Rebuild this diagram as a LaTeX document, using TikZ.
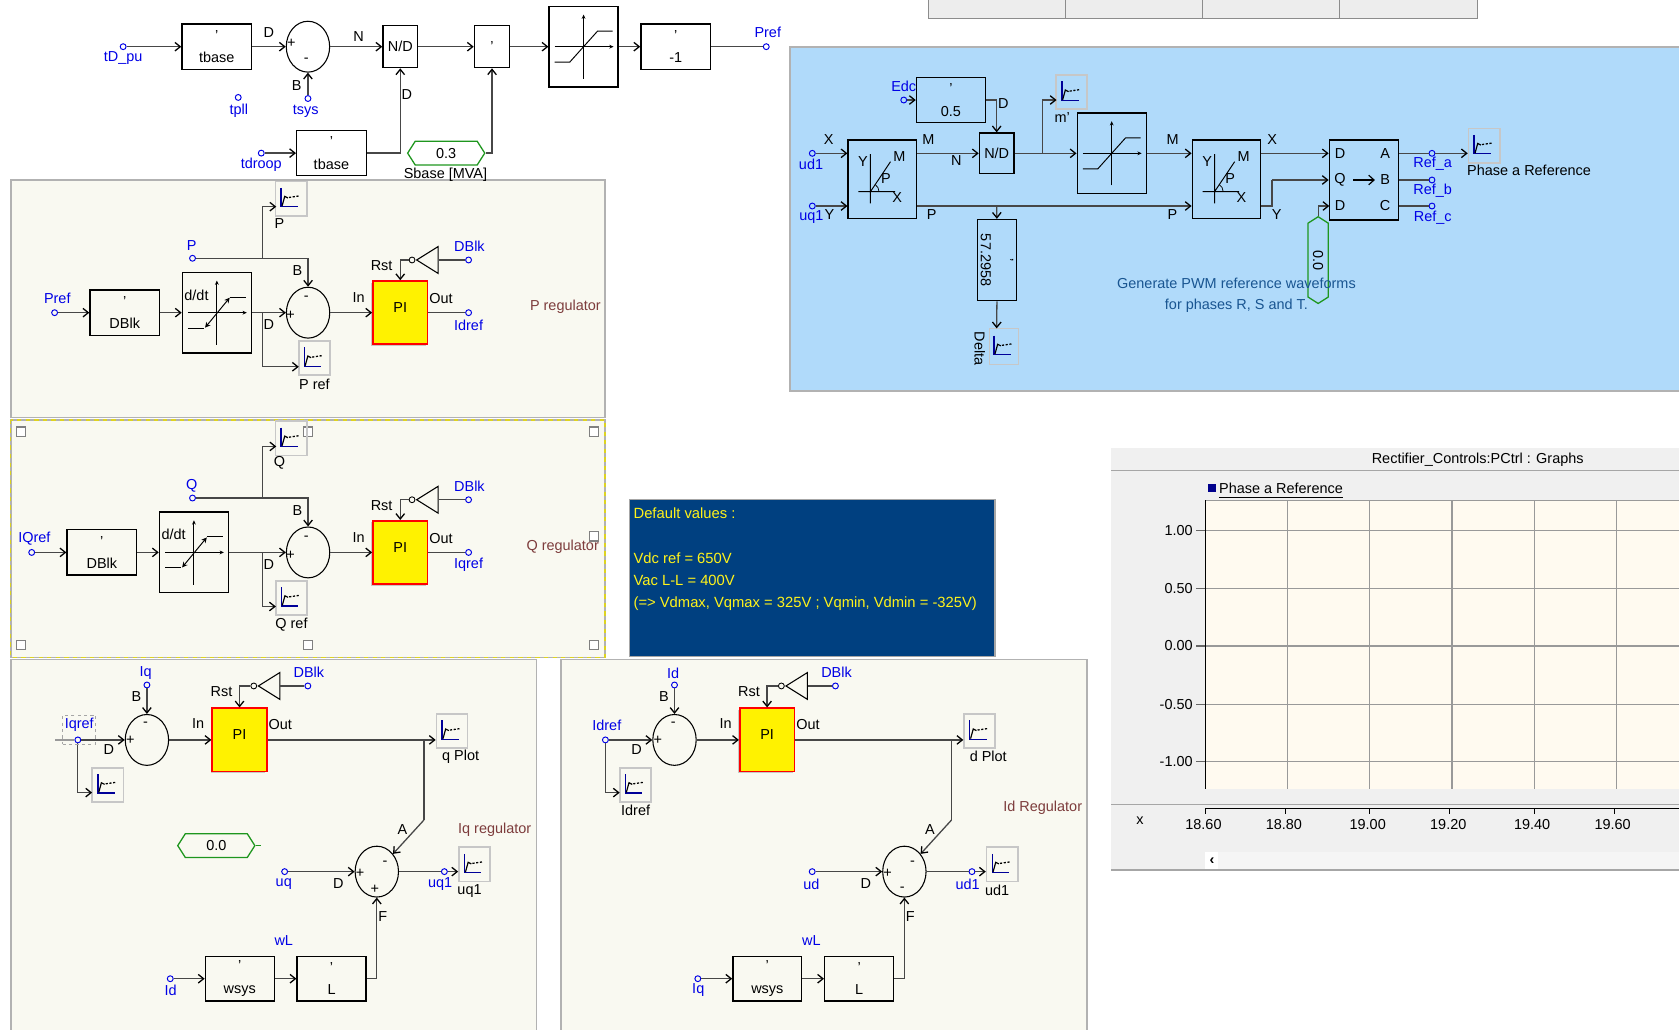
\documentclass[tikz,border=0pt]{standalone}
\usepackage{fontspec}
\setmainfont{Liberation Sans}
\usetikzlibrary{arrows.meta,positioning,shadows,shapes.geometric,shapes.symbols}
\definecolor{panelbg}{RGB}{249,249,241}
\definecolor{bluebg}{RGB}{176,218,250}
\definecolor{navybg}{RGB}{0,64,128}
\definecolor{sigblue}{RGB}{0,0,230}
\definecolor{notered}{RGB}{125,60,60}
\definecolor{notecyan}{RGB}{25,85,145}
\definecolor{cstgreen}{RGB}{30,150,30}
\definecolor{plotbg}{RGB}{255,250,240}
\definecolor{graphbg}{RGB}{240,240,240}
\newcommand{\labfont}{\fontsize{13.5}{16}\selectfont}
\tikzset{
  lab/.style={font=\labfont, inner sep=0},
  sigl/.style={lab, text=sigblue},
  note/.style={lab, text=notered},
  term/.style={circle, draw=sigblue, line width=0.9pt, inner sep=0, minimum size=5.5pt},
  blk/.style 2 args={draw, line width=1.2pt, minimum width=#1pt, minimum height=#2pt,
    inner sep=0, align=center, font=\labfont},
  summer/.style={ellipse, draw, line width=1pt, minimum width=40.5pt, minimum height=47.5pt, inner sep=0},
  piblk/.style={draw=red, fill=yellow, line width=1.6pt, minimum width=51pt, minimum height=59pt,
    inner sep=0, font=\labfont, text depth=10pt,
    drop shadow={shadow xshift=-1.5pt, shadow yshift=-1.5pt, fill=black!40}},
  notgate/.style={isosceles triangle, isosceles triangle stretches, shape border rotate=180,
    draw, line width=1pt, minimum width=25pt, minimum height=20pt, inner sep=0, anchor=apex},
  bubble/.style={circle, draw, line width=0.8pt, inner sep=0, minimum size=5.5pt},
  cst/.style={signal, signal to=west and east, signal pointer angle=115, draw=cstgreen,
    line width=1.2pt, minimum width=72pt, minimum height=22pt, inner sep=0, font=\labfont},
  wire/.style={draw=black!72, line width=1.2pt},
  sig/.style={wire, -{Straight Barb[length=5pt, width=8pt, color=black]}},
  handle/.style={draw=black!50, fill=white, line width=1pt, minimum size=8.5pt, inner sep=0},
  scopebox/.style={draw=black!22, line width=1.6pt, minimum width=29pt, minimum height=32pt, inner sep=0,
    path picture={
      \draw[shift={(path picture bounding box.center)}, rotate=#1, line width=1.3pt, blue!60!black]
        (-9.3,-10) -- (-9.3,7.6) -- (6.4,7.6);
      \draw[shift={(path picture bounding box.center)}, rotate=#1, line width=1.1pt, black]
        (-8.5,7) -- (-6,-2) -- (-3,-0.5);
      \draw[shift={(path picture bounding box.center)}, rotate=#1, line width=1.2pt, black, dash pattern=on 2pt off 1.5pt]
        (-2,-1) -- (8,-2.5);
    }},
  scopebox/.default=0,
  limiter/.style={draw, line width=1.2pt, minimum width=64.5pt, minimum height=75.5pt, inner sep=0,
    path picture={
      \draw[shift={(path picture bounding box.center)}, line width=0.9pt, -{Stealth[length=4pt, width=3.5pt]}]
        (0,30) -- (0,-30);
      \draw[shift={(path picture bounding box.center)}, line width=0.9pt, -{Stealth[length=4pt, width=3.5pt]}]
        (-27,0) -- (28,0);
      \draw[shift={(path picture bounding box.center)}, line width=0.9pt]
        (-27,14.5) -- (-13,14.5) -- (13,-14.5) -- (27,-14.5);
    }},
  ddtblk/.style={draw, line width=1.2pt, minimum width=64.5pt, minimum height=75.5pt, inner sep=0,
    path picture={
      \draw[shift={(path picture bounding box.center)}, line width=0.9pt, -{Stealth[length=4pt, width=3.5pt]}]
        (0,30) -- (0,-30);
      \draw[shift={(path picture bounding box.center)}, line width=0.9pt, -{Stealth[length=4pt, width=3.5pt]}]
        (-27,0) -- (28,0);
      \draw[shift={(path picture bounding box.center)}, line width=0.9pt]
        (-27,14.5) -- (-12,14.5) (12,-14.5) -- (27,-14.5);
      \draw[shift={(path picture bounding box.center)}, line width=0.9pt, {Stealth[length=5pt, width=5pt]}-{Stealth[length=5pt, width=5pt]}]
        (-11,14) -- (12,-14);
    }},
  xform/.style={draw, line width=1.2pt, minimum width=63.8pt, minimum height=73.2pt, inner sep=0,
    path picture={
      \draw[shift={(path picture bounding box.center)}, line width=0.9pt]
        (-11,-23.5) -- (-11,22.6) (-22.3,11.6) -- (12,11.6) (-11,11.6) -- (7.7,-16.4);
      \draw[shift={(path picture bounding box.center)}, line width=0.7pt]
        (-3,11.6) arc[start angle=0, end angle=-58, radius=8];
    }},
}
\begin{document}
\begin{tikzpicture}[x=1pt, y=-1pt]
  \useasboundingbox (0,0) rectangle (1568,961);

  % Panels
  \draw[fill=black!7, draw=black!45, line width=1.2pt] (867,-5) rectangle (1380,17);
  \foreach \x in {995,1123,1251}
    \draw[draw=black!45, line width=1pt] (\x,0) -- (\x,17);
  \draw[fill=panelbg, draw=black!30, line width=1.5pt] (10,168) rectangle (565,390);
  \draw[fill=panelbg, draw=black!30, line width=1.5pt] (10,392) rectangle (565,614);
  \draw[yellow!85!black, line width=1.4pt, dash pattern=on 4pt off 4pt] (10,392) rectangle (565,614);
  \draw[fill=panelbg, draw=black!30, line width=1.5pt] (10,616) rectangle (501,970);
  \draw[fill=panelbg, draw=black!30, line width=1.5pt] (524,616) rectangle (1015,970);
  \draw[fill=bluebg, draw=black!30, line width=1.5pt] (738,44) rectangle (1580,365);
  \draw[fill=navybg, draw=black!35, line width=1.5pt] (588,466.5) rectangle (929,613);

  % Selection handles
  \foreach \nm/\x/\y in {hA/19.6/403,hB/288/403,hC/555/403,hD/555/501,hE/19.6/602.4,hF/288/602.4,hG/555/602.4}
    \node[handle] (\nm) at (\x,\y) {};

  % Top row
  \node[term] (tDpu) at (115,43.6) {};
  \node[blk={65}{42.4}] (tbaseA) at (202.4,43.6) {'\\[5pt]tbase};
  \node[summer] (sumT) at (287.6,43.6) {};
  \node[blk={32.4}{39.2}] (ndT) at (373.8,43.6) {N/D};
  \node[blk={33}{39.2}] (mulT) at (459.5,43.6) {'};
  \node[limiter] (limT) at (545,43.6) {};
  \node[blk={65}{42.4}] (negT) at (631,43.6) {'\\[5pt]-1};
  \node[term] (tPrefT) at (715.6,43.6) {};
  \node[term] (tSys) at (287.6,92) {};
  \node[term] (tPll) at (222.5,91) {};
  \node[term] (tDroop) at (244,143) {};
  \node[blk={65}{42}] (tbaseB) at (309.5,143) {'\\[5pt]tbase};
  \node[cst] (cstS) at (416.7,143) {0.3};
  \foreach \nm/\x/\y/\lbl in {
    lDpu/115/54/{tD\_pu}, lPrefT/717/30.5/Pref, lSys/285.5/104/tsys, lPll/223/103/tpll,
    lDroop/244/154/tdroop}
    \node[sigl] (\nm) at (\x,\y) {\lbl};
  \foreach \nm/\x/\y/\lbl in {
    lDa/251/30.5/D, lPlus/272/40/+, lMinus/286/56/-, lBa/277/80/B, lNa/335/34/N,
    lDb/380/88.7/D, lSb/416/163.4/{Sbase [MVA]}}
    \node[lab] (\nm) at (\x,\y) {\lbl};
  \draw[sig] (tDpu) -- (tbaseA);
  \draw[sig] (tbaseA) -- (sumT);
  \draw[sig] (tSys) -- (sumT);
  \draw[sig] (sumT) -- (ndT);
  \draw[sig] (ndT) -- (mulT);
  \draw[sig] (mulT) -- (limT);
  \draw[sig] (limT) -- (negT);
  \draw[wire] (negT) -- (tPrefT);
  \draw[sig] (tDroop) -- (tbaseB);
  \draw[sig] (tbaseB.east) -| (ndT.south);
  \draw[sig] (cstS.east) -| (mulT.south);

  % P and Q regulators
  \foreach \s/\sy/\sx/\sig/\sref/\sout/\snote/\nx in {
    P/0/0/P/Pref/Idref/{P regulator}/528,
    Q/223.9/-21.4/Q/IQref/Iqref/{Q regulator}/525.5}{
    \begin{scope}[shift={(0,\sy)}]
      \node[term] (tRef\s) at ({51+\sx},292) {};
      \node[blk={65}{42.3}] (dblk\s) at ({116.5+\sx},292) {'\\[5pt]DBlk};
      \node[ddtblk] (ddt\s) at ({202.5+\sx},292) {};
      \node[lab] (lDdt\s) at ({183.5+\sx},275.5) {d/dt};
      \node[summer] (sum\s) at (287.7,292) {};
      \node[piblk] (pi\s) at (373.8,292) {PI};
      \node[term] (tOut\s) at (437.6,292) {};
      \node[term] (tMeas\s) at (179.8,241.2) {};
      \node[term] (tBlk\s) at (437.6,242.8) {};
      \node[notgate] (not\s) at (387.8,242.8) {};
      \node[bubble] (bub\s) at (384.8,242.8) {};
      \node[scopebox] (scA\s) at (271.9,185.4) {};
      \node[scopebox] (scB\s) at ({293.5+\sx},334.5) {};
      \coordinate (jT\s) at (245,241.2);
      \coordinate (jB\s) at (245,292);
      \coordinate (aT\s) at (258,193);
      \coordinate (aB\s) at ({279+\sx},342.5);
      \foreach \nm/\x/\y/\lbl in {
        lB/277.7/253/B, lD/251/303/D, lP/271.4/294.8/+, lM/286/278.6/-, lIn/335/278/In,
        lOut/411.8/279/Out, lRst/356.4/248/Rst, lSa/261/208.5/\sig}
        \node[lab] (\nm\s) at (\x,\y) {\lbl};
      \node[lab] (lSb\s) at ({293.6+\sx},359) {\sig{} ref};
      \node[sigl] (lRef\s) at ({53.5+\sx},279) {\sref};
      \node[sigl] (lMeas\s) at (179,229.4) {\sig};
      \node[sigl] (lBlk\s) at (438.4,230.3) {DBlk};
      \node[sigl] (lOutT\s) at (437.6,303.5) {\sout};
      \node[note] (lNote\s) at (\nx,286.4) {\snote};
      \draw[sig] (tRef\s) -- (dblk\s);
      \draw[sig] (dblk\s) -- (ddt\s);
      \draw[sig] (ddt\s) -- (sum\s);
      \draw[sig] (sum\s) -- (pi\s);
      \draw[wire] (pi\s) -- (tOut\s);
      \draw[wire] (tMeas\s) -- (jT\s);
      \draw[sig] (jT\s) -| (sum\s.north);
      \draw[sig] (jT\s) |- (aT\s);
      \draw[sig] (jB\s) |- (aB\s);
      \draw[wire] (tBlk\s) -- (not\s.lower side);
      \draw[sig] (bub\s.west) -| (pi\s.north);
    \end{scope}
  }

  % Iq and Id regulators
  \foreach \s/\sx/\si/\sr/\sp/\sv/\so/\sn/\sc in {
    C/0/Iq/Iqref/{q Plot}/uq/uq1/+/Id,
    D/492.7/Id/Idref/{d Plot}/ud/ud1/-/Iq}{
    \begin{scope}[shift={(\sx,0)}]
      \node[term] (tRef\s) at (72.7,691) {};
      \node[term] (tI\s) at (137.2,639.7) {};
      \node[summer] (sumA\s) at (137.2,691) {};
      \node[piblk] (pi\s) at (223.7,691) {PI};
      \node[term] (tBlk\s) at (287.5,640.6) {};
      \node[notgate] (not\s) at (240,640.6) {};
      \node[bubble] (bub\s) at (237,640.6) {};
      \node[scopebox] (scA\s) at (422.2,682.8) {};
      \node[scopebox] (scR\s) at (100.7,733) {};
      \coordinate (aR\s) at (86,740.2);
      \coordinate (jO\s) at (395.9,691);
      \coordinate (kO\s) at (395.9,765.8);
      \node[summer] (sumB\s) at (351.9,814) {};
      \node[term] (tV\s) at (265.8,814) {};
      \node[term] (tVo\s) at (415,814) {};
      \node[scopebox] (scV\s) at (443.2,807.3) {};
      \node[term] (tC\s) at (159,914) {};
      \node[blk={64.4}{41.4}] (wsys\s) at (223.9,914) {'\\[5pt]wsys};
      \node[blk={64.4}{41.4}] (gainL\s) at (309.6,914) {'\\[5pt]L};
      \foreach \nm/\x/\y/\lbl in {
        lB/127.4/650.6/B, lD/101.7/699.8/D, lP/121.7/691.7/+, lM/136/676/-, lIn/185/675.5/In,
        lOut/261.8/677/Out, lRst/206.8/646/Rst, lPlot/430.2/706.6/\sp, lA/375.8/775/A,
        lMb/359.5/806/-, lPb/336.2/816/+, lSg/350/830.5/\sn, lDb/316/825/D, lF/357.5/856/F,
        lSv/438.5/831.8/\so}
        \node[lab] (\nm\s) at (\x,\y) {\lbl};
      \foreach \nm/\x/\y/\lbl in {
        lI/136/628.8/\si, lRef/74/677/\sr, lBlk/288.5/628/DBlk, lV/265/825.5/\sv,
        lVo/411/825.5/\so, lC/159.4/924.5/\sc, lWl/265/878.5/wL}
        \node[sigl] (\nm\s) at (\x,\y) {\lbl};
      \draw[sig] (tRef\s) -- (sumA\s);
      \draw[sig] (tI\s) -- (sumA\s);
      \draw[sig] (sumA\s) -- (pi\s);
      \draw[sig] (pi\s) -- (jO\s) -- (scA\s.west |- jO\s);
      \draw[sig] (tRef\s) |- (aR\s);
      \draw[wire] (tBlk\s) -- (not\s.lower side);
      \draw[sig] (bub\s.west) -| (pi\s.north);
      \draw[wire] (jO\s) -- (kO\s);
      \draw[sig] (kO\s) -- (sumB\s);
      \draw[sig] (tV\s) -- (sumB\s);
      \draw[wire] (sumB\s) -- (tVo\s);
      \draw[sig] (tVo\s) -- (scV\s.west |- tVo\s);
      \draw[sig] (tC\s) -- (wsys\s);
      \draw[sig] (wsys\s) -- (gainL\s);
      \draw[sig] (gainL\s.east) -| (sumB\s.south);
    \end{scope}
  }
  \node[draw=black!35, dashed, line width=0.8pt, minimum width=31pt, minimum height=27pt, inner sep=0] (selRef) at (73.9,681.3) {};
  \coordinate (stubRef) at (51.7,691);
  \draw[wire, draw=black!40] (stubRef) -- (tRefC);
  \node[cst] (cstQ) at (202,789.7) {0.0};
  \coordinate (stubQ) at (244,789.7);
  \draw[wire, draw=cstgreen] (cstQ.east) -- (stubQ);
  \node[note] (noteIq) at (462,775) {Iq regulator};
  \node[note] (noteId) at (973.8,754) {Id Regulator};
  \node[lab] (lScrD) at (593.6,756.4) {Idref};

  % Default values
  \node[lab, text=yellow!90!white, anchor=north west, align=left, font=\fontsize{13.8}{20.8}\selectfont] (defaults) at (591.5,474)
    {Default values :\\[0pt] \\Vdc ref = 650V\\Vac L-L = 400V\\(=> Vdmax, Vqmax = 325V ; Vqmin, Vdmin = -325V)};

  % PWM reference block
  \node[term] (tUd) at (758.6,143.2) {};
  \node[term] (tUq) at (758.6,192.4) {};
  \node[term] (tEdc) at (844,93.4) {};
  \node[xform] (xfA) at (823.9,167.4) {};
  \node[xform] (xfB) at (1145.3,167.4) {};
  \node[blk={64.6}{42.3}] (halfB) at (888.1,93.4) {'\\[5pt]0.5};
  \node[blk={32.4}{38}] (ndB) at (930.8,143.2) {N/D};
  \node[limiter] (limB) at (1038.2,143.2) {};
  \node[blk={64.6}{74.7}] (triB) at (1273.7,168.1) {};
  \node[scopebox] (scM) at (1000.9,86.1) {};
  \node[blk={75.9}{36.3}, rotate=-90] (delta) at (931,242.9) {'\\[5pt]57.2958};
  \node[scopebox=-90, minimum width=27pt, minimum height=33.6pt] (scD) at (937.7,323.5) {};
  \node[cst, rotate=-90, minimum width=81pt, minimum height=19pt] (cstV) at (1231,242.9) {0.0};
  \node[term] (tRa) at (1337.3,143.2) {};
  \node[term] (tRb) at (1337.3,168.1) {};
  \node[term] (tRc) at (1337.3,192.4) {};
  \node[scopebox] (scR) at (1386,136) {};
  \coordinate (jM) at (973.4,143.2);
  \coordinate (aM) at (986.7,93.4);
  \coordinate (jD) at (930.8,192.4);
  \coordinate (aD) at (930.8,306.7);
  \coordinate (yOut) at (1177.6,192.4);
  \coordinate (yUp) at (1188,168.1);
  \coordinate (qIn) at (1241.4,192.4);
  \foreach \s/\x in {A/823.9,B/1145.3}{
    \foreach \nm/\dx/\dy/\lbl in {Y/-18/-16.4/Y, M/16/-21/M, X/14/17/X, P/3.5/-0.8/P}
      \node[lab] (l\nm\s) at ({\x+\dx},{167.4+\dy}) {\lbl};
  }
  \foreach \nm/\x/\y/\lbl in {
    lXa/774/130.2/X, lYa/774.5/200/Y, lMa/867/130.2/M, lNb/893/149.5/N, lPa/870/200/P,
    lDc/937/96.5/D, lMq/992/109.6/{m'}, lMc/1095/130.2/M, lPc/1095/200/P, lXc/1188/130.2/X,
    lYc/1192.2/200/Y, lTd/1251.4/143.2/D, lTq/1251.4/167.5/Q, lTe/1251.4/192.1/D,
    lTa/1293.5/143.2/A, lTb/1293.5/167.5/B, lTc/1293.5/192.1/C, lPhase/1428/159/{Phase a Reference}}
    \node[lab] (\nm) at (\x,\y) {\lbl};
  \node[lab, rotate=-90] (lDelta) at (915,325.4) {Delta};
  \foreach \nm/\x/\y/\lbl in {
    lEdc/844/80.4/Edc, lUd/757.4/153.2/ud1, lUq/757.8/202.4/uq1,
    lRa/1338/153.2/{Ref\_a}, lRb/1338/178/{Ref\_b}, lRc/1338/203/{Ref\_c}}
    \node[sigl] (\nm) at (\x,\y) {\lbl};
  \node[lab, text=notecyan, align=center, font=\fontsize{13.5}{20.2}\selectfont] (notePwm) at (1154.7,275.6)
    {Generate PWM reference waveforms\\for phases R, S and T.};
  \coordinate (midA) at (1264,168.1);
  \coordinate (midB) at (1284,168.1);
  \draw[-{Straight Barb[length=5pt, width=9pt]}, line width=1.1pt] (midA) -- (midB);
  \draw[sig] (tUd) -- (xfA.west |- tUd);
  \draw[sig] (tUq) -- (xfA.west |- tUq);
  \draw[sig] (tEdc) -- (halfB);
  \draw[sig] (halfB.east) -| (ndB.north);
  \draw[sig] (xfA.east |- ndB) -- (ndB);
  \draw[sig] (ndB) -- (limB);
  \draw[sig] (jM) |- (aM);
  \draw[sig] (limB) -- (xfB.west |- limB);
  \draw[sig] (xfB.east |- tUd) -- (triB.west |- tUd);
  \draw[sig] (xfA.east |- tUq) -- (xfB.west |- tUq);
  \draw[wire] (yOut) -| (yUp);
  \draw[sig] (yUp) -- (triB);
  \draw[sig] (jD) -- (delta.west);
  \draw[sig] (delta.east) -- (aD);
  \draw[sig] (cstV.west) |- (qIn);
  \draw[wire] (tRa -| triB.east) -- (tRa);
  \draw[wire] (tRb -| triB.east) -- (tRb);
  \draw[wire] (tRc -| triB.east) -- (tRc);
  \draw[sig] (tRa) -- (scR.west |- tRa);

  % Graph window
  \fill[graphbg] (1038,418) rectangle (1568,812.5);
  \draw[black!35, line width=1.2pt] (1038,439.5) -- (1568,439.5);
  \draw[black!35, line width=1.2pt] (1038,751) -- (1568,751);
  \draw[black!35, line width=1.2pt] (1038,812.5) -- (1568,812.5);
  \fill[plotbg] (1125.6,467) rectangle (1568,737);
  \foreach \x in {1202.2,1279,1356,1432.9,1509.5}
    \draw[black!40, line width=1pt] (\x,467) -- (\x,737);
  \foreach \y in {495.6,549.4,603.3,657.5,711.3}{
    \draw[black!40, line width=1pt] (1125.6,\y) -- (1568,\y);
    \draw[black!60, line width=1pt] (1117,\y) -- (1125.6,\y);
  }
  \draw[black!40, line width=1pt] (1125.6,467) -- (1568,467);
  \draw[black, line width=1pt] (1125.6,467) -- (1125.6,737);
  \draw[black, line width=1pt] (1125.6,755) -- (1568,755);
  \foreach \x in {1125.6,1200.8,1279,1354,1433,1507.7}
    \draw[black, line width=1pt] (\x,755) -- (\x,760);
  \fill[white] (1125.6,795.4) rectangle (1137.7,811.5);
  \fill[black!4] (1137.7,795.4) rectangle (1568,811.5);
  \node[lab] (graphTitle) at (1380,429.6) {Rectifier\_Controls:PCtrl : Graphs};
  \node[fill=blue!55!black, minimum size=7.5pt, inner sep=0] (legendBox) at (1131.8,455.4) {};
  \node[lab, font=\fontsize{13.5}{16}\selectfont] (legendTxt) at (1196.3,456.5) {Phase a Reference};
  \draw[black, line width=0.9pt] (legendTxt.west |- 0,464.4) -- (legendTxt.east |- 0,464.4);
  \foreach \nm/\y/\lbl in {yA/495.6/1.00, yB/549.4/0.50, yC/603.3/0.00, yD/657.5/-0.50, yE/711.3/-1.00}
    \node[lab, anchor=east] (\nm) at (1114,\y) {\lbl};
  \foreach \nm/\x/\lbl in {xA/1123.9/18.60, xB/1199/18.80, xC/1277.3/19.00, xD/1352.5/19.20, xE/1430.8/19.40, xF/1506/19.60}
    \node[lab] (\nm) at (\x,769.8) {\lbl};
  \node[lab] (xName) at (1064.5,766.4) {x};
  \node[lab] (scrollL) at (1131.8,803.8) {\textbf{\char"2039}};
\end{tikzpicture}
\end{document}
